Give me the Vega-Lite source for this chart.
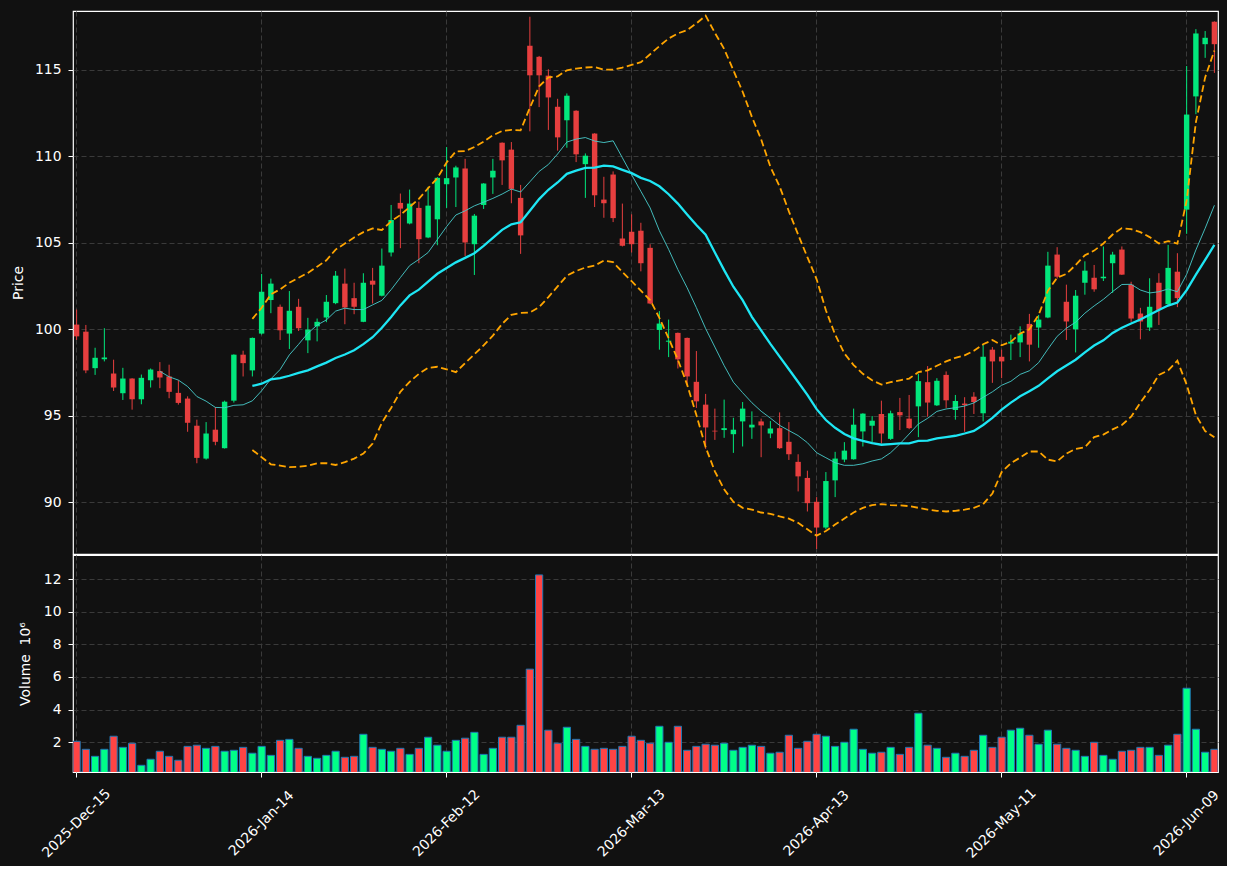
{
"$schema": "https://vega.github.io/schema/vega-lite/v6.json",
"background": "#111111",
"padding": {"left": 11, "top": 10, "right": 5, "bottom": 5},
"config": {
 "view": {"stroke": "#ffffff", "strokeWidth": 1.2, "fill": "#111111"},
 "axis": {"labelColor": "#ffffff", "titleColor": "#ffffff", "labelFont": "DejaVu Sans", "titleFont": "DejaVu Sans", "labelFontSize": 13.9, "titleFontSize": 13.9, "titleFontWeight": "normal", "tickColor": "#ffffff", "tickSize": 5, "tickWidth": 1, "domain": false, "gridColor": "#3a3a3a", "gridDash": [5, 3], "gridWidth": 1, "labelPadding": 7}
},
"data": {"values": [
{"date":"2025-12-15","open":100.27,"high":101.14,"low":99.38,"close":99.59,"volume":2.06},
{"date":"2025-12-16","open":99.86,"high":100.25,"low":97.46,"close":97.62,"volume":1.57},
{"date":"2025-12-17","open":97.75,"high":98.93,"low":97.36,"close":98.35,"volume":1.14},
{"date":"2025-12-18","open":98.26,"high":100.06,"low":98.14,"close":98.37,"volume":1.57},
{"date":"2025-12-19","open":97.44,"high":98.24,"low":96.43,"close":96.63,"volume":2.37},
{"date":"2025-12-22","open":96.30,"high":97.77,"low":95.91,"close":97.15,"volume":1.69},
{"date":"2025-12-23","open":97.15,"high":97.17,"low":95.35,"close":95.95,"volume":1.94},
{"date":"2025-12-24","open":95.95,"high":97.38,"low":95.66,"close":97.19,"volume":0.59},
{"date":"2025-12-26","open":97.05,"high":97.73,"low":96.63,"close":97.67,"volume":0.96},
{"date":"2025-12-29","open":97.58,"high":98.10,"low":96.59,"close":97.21,"volume":1.45,"ma10":97.57},
{"date":"2025-12-30","open":97.27,"high":97.95,"low":96.01,"close":96.38,"volume":1.14,"ma10":97.25},
{"date":"2025-12-31","open":96.32,"high":97.05,"low":95.64,"close":95.74,"volume":0.90,"ma10":97.06},
{"date":"2026-01-02","open":95.99,"high":96.12,"low":94.07,"close":94.59,"volume":1.75,"ma10":96.69},
{"date":"2026-01-05","open":94.42,"high":94.77,"low":92.25,"close":92.56,"volume":1.82,"ma10":96.11},
{"date":"2026-01-06","open":92.52,"high":94.63,"low":92.46,"close":93.97,"volume":1.63,"ma10":95.84},
{"date":"2026-01-07","open":94.19,"high":95.50,"low":93.29,"close":93.49,"volume":1.75,"ma10":95.48},
{"date":"2026-01-08","open":93.12,"high":95.87,"low":93.10,"close":95.81,"volume":1.45,"ma10":95.46},
{"date":"2026-01-09","open":95.87,"high":98.55,"low":95.76,"close":98.53,"volume":1.51,"ma10":95.60},
{"date":"2026-01-12","open":98.53,"high":98.76,"low":97.27,"close":98.04,"volume":1.69,"ma10":95.63},
{"date":"2026-01-13","open":97.62,"high":99.52,"low":97.27,"close":99.50,"volume":1.33,"ma10":95.86,"ma20":96.72,"bb_upper":100.6,"bb_lower":93.02},
{"date":"2026-01-14","open":99.75,"high":103.20,"low":99.69,"close":102.17,"volume":1.75,"ma10":96.44,"ma20":96.85,"bb_upper":101.24,"bb_lower":92.60},
{"date":"2026-01-15","open":101.69,"high":102.93,"low":100.93,"close":102.64,"volume":1.20,"ma10":97.13,"ma20":97.10,"bb_upper":102.02,"bb_lower":92.19},
{"date":"2026-01-16","open":101.30,"high":101.43,"low":99.38,"close":99.94,"volume":2.12,"ma10":97.67,"ma20":97.18,"bb_upper":102.31,"bb_lower":92.11},
{"date":"2026-01-20","open":99.75,"high":102.21,"low":98.86,"close":101.07,"volume":2.18,"ma10":98.52,"ma20":97.31,"bb_upper":102.69,"bb_lower":92.02},
{"date":"2026-01-21","open":101.30,"high":101.76,"low":99.90,"close":100.06,"volume":1.63,"ma10":99.13,"ma20":97.48,"bb_upper":102.98,"bb_lower":92.05},
{"date":"2026-01-22","open":99.36,"high":100.66,"low":98.62,"close":99.98,"volume":1.14,"ma10":99.77,"ma20":97.62,"bb_upper":103.26,"bb_lower":92.11},
{"date":"2026-01-23","open":100.17,"high":100.62,"low":99.30,"close":100.43,"volume":1.02,"ma10":100.24,"ma20":97.85,"bb_upper":103.62,"bb_lower":92.25},
{"date":"2026-01-26","open":100.68,"high":101.98,"low":100.41,"close":101.59,"volume":1.20,"ma10":100.54,"ma20":98.07,"bb_upper":103.99,"bb_lower":92.25},
{"date":"2026-01-27","open":101.51,"high":103.37,"low":101.45,"close":103.10,"volume":1.45,"ma10":101.05,"ma20":98.34,"bb_upper":104.61,"bb_lower":92.15},
{"date":"2026-01-28","open":102.64,"high":103.51,"low":100.29,"close":101.26,"volume":1.08,"ma10":101.22,"ma20":98.54,"bb_upper":104.96,"bb_lower":92.31},
{"date":"2026-01-29","open":101.80,"high":102.69,"low":100.87,"close":101.30,"volume":1.14,"ma10":101.14,"ma20":98.79,"bb_upper":105.31,"bb_lower":92.52},
{"date":"2026-01-30","open":100.43,"high":103.24,"low":100.41,"close":102.69,"volume":2.49,"ma10":101.14,"ma20":99.14,"bb_upper":105.62,"bb_lower":92.81},
{"date":"2026-02-02","open":102.81,"high":103.55,"low":101.49,"close":102.58,"volume":1.69,"ma10":101.41,"ma20":99.54,"bb_upper":105.83,"bb_lower":93.39},
{"date":"2026-02-03","open":101.94,"high":104.67,"low":101.90,"close":103.68,"volume":1.57,"ma10":101.67,"ma20":100.09,"bb_upper":105.74,"bb_lower":94.59},
{"date":"2026-02-04","open":104.44,"high":107.19,"low":104.21,"close":106.32,"volume":1.45,"ma10":102.29,"ma20":100.71,"bb_upper":106.24,"bb_lower":95.45},
{"date":"2026-02-05","open":107.31,"high":107.85,"low":104.69,"close":106.98,"volume":1.63,"ma10":102.99,"ma20":101.38,"bb_upper":106.61,"bb_lower":96.38},
{"date":"2026-02-06","open":106.12,"high":108.08,"low":106.07,"close":107.27,"volume":1.26,"ma10":103.68,"ma20":101.96,"bb_upper":107.07,"bb_lower":96.96},
{"date":"2026-02-09","open":107.02,"high":107.38,"low":103.82,"close":105.21,"volume":1.63,"ma10":104.04,"ma20":102.29,"bb_upper":107.54,"bb_lower":97.42},
{"date":"2026-02-10","open":105.31,"high":108.24,"low":105.27,"close":107.15,"volume":2.31,"ma10":104.44,"ma20":102.75,"bb_upper":108.16,"bb_lower":97.77},
{"date":"2026-02-11","open":106.36,"high":108.80,"low":104.86,"close":108.76,"volume":1.82,"ma10":105.19,"ma20":103.21,"bb_upper":108.74,"bb_lower":97.83},
{"date":"2026-02-12","open":108.39,"high":110.54,"low":107.02,"close":108.74,"volume":1.45,"ma10":105.94,"ma20":103.54,"bb_upper":109.65,"bb_lower":97.68},
{"date":"2026-02-13","open":108.78,"high":109.46,"low":107.07,"close":109.36,"volume":2.12,"ma10":106.61,"ma20":103.87,"bb_upper":110.29,"bb_lower":97.52},
{"date":"2026-02-17","open":109.30,"high":109.86,"low":104.24,"close":105.02,"volume":2.25,"ma10":106.85,"ma20":104.13,"bb_upper":110.31,"bb_lower":98.04},
{"date":"2026-02-18","open":104.92,"high":106.67,"low":103.14,"close":106.57,"volume":2.61,"ma10":107.14,"ma20":104.40,"bb_upper":110.54,"bb_lower":98.55},
{"date":"2026-02-19","open":107.19,"high":108.45,"low":106.96,"close":108.43,"volume":1.26,"ma10":107.35,"ma20":104.82,"bb_upper":110.85,"bb_lower":99.07},
{"date":"2026-02-20","open":108.78,"high":109.86,"low":107.83,"close":109.17,"volume":1.63,"ma10":107.57,"ma20":105.28,"bb_upper":111.22,"bb_lower":99.63},
{"date":"2026-02-23","open":110.79,"high":110.81,"low":108.35,"close":109.77,"volume":2.31,"ma10":107.82,"ma20":105.75,"bb_upper":111.47,"bb_lower":100.31},
{"date":"2026-02-24","open":110.39,"high":110.83,"low":107.29,"close":108.12,"volume":2.31,"ma10":108.11,"ma20":106.07,"bb_upper":111.53,"bb_lower":100.83},
{"date":"2026-02-25","open":107.60,"high":108.35,"low":104.36,"close":105.43,"volume":3.04,"ma10":107.94,"ma20":106.19,"bb_upper":111.51,"bb_lower":100.95},
{"date":"2026-02-26","open":116.40,"high":118.08,"low":111.45,"close":114.69,"volume":6.48,"ma10":108.53,"ma20":106.86,"bb_upper":112.81,"bb_lower":100.97},
{"date":"2026-02-27","open":115.76,"high":115.81,"low":112.85,"close":114.69,"volume":12.25,"ma10":109.13,"ma20":107.53,"bb_upper":114.05,"bb_lower":101.28},
{"date":"2026-03-02","open":114.67,"high":115.04,"low":111.53,"close":113.41,"volume":2.74,"ma10":109.53,"ma20":108.07,"bb_upper":114.57,"bb_lower":101.86},
{"date":"2026-03-03","open":112.87,"high":113.33,"low":110.33,"close":111.10,"volume":1.94,"ma10":110.14,"ma20":108.49,"bb_upper":114.63,"bb_lower":102.48},
{"date":"2026-03-04","open":112.09,"high":113.64,"low":110.50,"close":113.51,"volume":2.92,"ma10":110.83,"ma20":108.99,"bb_upper":114.98,"bb_lower":103.10},
{"date":"2026-03-05","open":112.64,"high":112.67,"low":109.67,"close":110.12,"volume":2.18,"ma10":111.00,"ma20":109.18,"bb_upper":115.08,"bb_lower":103.37},
{"date":"2026-03-06","open":109.55,"high":110.17,"low":107.60,"close":110.04,"volume":1.75,"ma10":111.09,"ma20":109.33,"bb_upper":115.14,"bb_lower":103.57},
{"date":"2026-03-09","open":111.32,"high":111.34,"low":107.07,"close":107.75,"volume":1.57,"ma10":110.89,"ma20":109.35,"bb_upper":115.17,"bb_lower":103.68},
{"date":"2026-03-10","open":107.50,"high":108.82,"low":106.45,"close":107.29,"volume":1.63,"ma10":110.80,"ma20":109.46,"bb_upper":115.02,"bb_lower":103.97},
{"date":"2026-03-11","open":108.95,"high":109.13,"low":106.20,"close":106.43,"volume":1.57,"ma10":110.90,"ma20":109.42,"bb_upper":115.02,"bb_lower":103.88},
{"date":"2026-03-12","open":105.25,"high":107.27,"low":104.79,"close":104.83,"volume":1.75,"ma10":109.92,"ma20":109.22,"bb_upper":115.14,"bb_lower":103.31},
{"date":"2026-03-13","open":105.64,"high":106.65,"low":104.44,"close":104.92,"volume":2.37,"ma10":108.94,"ma20":109.03,"bb_upper":115.29,"bb_lower":102.78},
{"date":"2026-03-16","open":105.70,"high":106.16,"low":103.35,"close":103.82,"volume":2.12,"ma10":107.98,"ma20":108.76,"bb_upper":115.45,"bb_lower":102.24},
{"date":"2026-03-17","open":104.71,"high":104.92,"low":101.45,"close":101.49,"volume":1.94,"ma10":107.02,"ma20":108.58,"bb_upper":115.91,"bb_lower":101.69},
{"date":"2026-03-18","open":99.96,"high":101.05,"low":98.82,"close":100.33,"volume":2.98,"ma10":105.70,"ma20":108.27,"bb_upper":116.38,"bb_lower":100.66},
{"date":"2026-03-19","open":99.28,"high":100.56,"low":98.39,"close":99.34,"volume":2.00,"ma10":104.62,"ma20":107.81,"bb_upper":116.82,"bb_lower":99.48},
{"date":"2026-03-20","open":99.79,"high":99.81,"low":97.73,"close":98.26,"volume":2.98,"ma10":103.45,"ma20":107.27,"bb_upper":117.11,"bb_lower":98.24},
{"date":"2026-03-23","open":99.50,"high":99.52,"low":96.74,"close":97.27,"volume":1.51,"ma10":102.40,"ma20":106.64,"bb_upper":117.31,"bb_lower":96.80},
{"date":"2026-03-24","open":96.96,"high":98.74,"low":95.45,"close":95.83,"volume":1.75,"ma10":101.25,"ma20":106.03,"bb_upper":117.69,"bb_lower":95.04},
{"date":"2026-03-25","open":95.64,"high":96.26,"low":93.08,"close":94.32,"volume":1.88,"ma10":100.04,"ma20":105.47,"bb_upper":118.14,"bb_lower":93.18},
{"date":"2026-03-26","open":94.13,"high":95.41,"low":93.60,"close":94.09,"volume":1.82,"ma10":98.97,"ma20":104.44,"bb_upper":117.15,"bb_lower":91.78},
{"date":"2026-03-27","open":94.17,"high":95.93,"low":93.72,"close":94.28,"volume":1.94,"ma10":97.90,"ma20":103.42,"bb_upper":116.22,"bb_lower":90.74},
{"date":"2026-03-30","open":93.93,"high":94.88,"low":92.85,"close":94.19,"volume":1.51,"ma10":96.94,"ma20":102.46,"bb_upper":114.98,"bb_lower":90.02},
{"date":"2026-03-31","open":94.67,"high":95.79,"low":93.22,"close":95.41,"volume":1.69,"ma10":96.33,"ma20":101.68,"bb_upper":113.74,"bb_lower":89.67},
{"date":"2026-04-01","open":94.32,"high":95.25,"low":93.66,"close":94.48,"volume":1.82,"ma10":95.75,"ma20":100.72,"bb_upper":112.29,"bb_lower":89.57},
{"date":"2026-04-02","open":94.67,"high":94.83,"low":92.60,"close":94.44,"volume":1.75,"ma10":95.26,"ma20":99.94,"bb_upper":110.99,"bb_lower":89.40},
{"date":"2026-04-06","open":93.97,"high":94.69,"low":93.70,"close":94.26,"volume":1.33,"ma10":94.86,"ma20":99.15,"bb_upper":109.4,"bb_lower":89.32},
{"date":"2026-04-07","open":94.28,"high":95.19,"low":93.08,"close":93.12,"volume":1.39,"ma10":94.44,"ma20":98.42,"bb_upper":108.26,"bb_lower":89.17},
{"date":"2026-04-08","open":93.49,"high":94.63,"low":92.44,"close":92.77,"volume":2.43,"ma10":94.14,"ma20":97.69,"bb_upper":106.82,"bb_lower":89.05},
{"date":"2026-04-09","open":92.33,"high":92.77,"low":90.62,"close":91.49,"volume":1.63,"ma10":93.85,"ma20":96.95,"bb_upper":105.48,"bb_lower":88.80},
{"date":"2026-04-10","open":91.40,"high":91.82,"low":89.46,"close":89.94,"volume":2.06,"ma10":93.44,"ma20":96.20,"bb_upper":104.17,"bb_lower":88.43},
{"date":"2026-04-13","open":90.02,"high":90.29,"low":87.29,"close":88.53,"volume":2.49,"ma10":92.86,"ma20":95.38,"bb_upper":102.89,"bb_lower":88.06},
{"date":"2026-04-14","open":88.53,"high":91.74,"low":88.43,"close":91.22,"volume":2.37,"ma10":92.57,"ma20":94.75,"bb_upper":101.1,"bb_lower":88.33},
{"date":"2026-04-15","open":91.26,"high":92.91,"low":90.29,"close":92.52,"volume":1.75,"ma10":92.28,"ma20":94.30,"bb_upper":99.69,"bb_lower":88.70},
{"date":"2026-04-16","open":92.46,"high":93.47,"low":92.31,"close":92.98,"volume":2.00,"ma10":92.13,"ma20":93.94,"bb_upper":98.60,"bb_lower":89.05},
{"date":"2026-04-17","open":92.48,"high":95.41,"low":92.46,"close":94.48,"volume":2.80,"ma10":92.13,"ma20":93.69,"bb_upper":97.93,"bb_lower":89.40},
{"date":"2026-04-20","open":94.09,"high":95.14,"low":93.22,"close":95.12,"volume":1.57,"ma10":92.22,"ma20":93.54,"bb_upper":97.42,"bb_lower":89.67},
{"date":"2026-04-21","open":94.42,"high":94.98,"low":93.45,"close":94.71,"volume":1.33,"ma10":92.38,"ma20":93.41,"bb_upper":97.05,"bb_lower":89.83},
{"date":"2026-04-22","open":95.10,"high":95.87,"low":93.39,"close":93.97,"volume":1.39,"ma10":92.50,"ma20":93.32,"bb_upper":96.80,"bb_lower":89.88},
{"date":"2026-04-23","open":93.66,"high":95.29,"low":93.60,"close":95.14,"volume":1.69,"ma10":92.86,"ma20":93.36,"bb_upper":96.94,"bb_lower":89.83},
{"date":"2026-04-24","open":95.21,"high":96.03,"low":94.17,"close":95.02,"volume":1.26,"ma10":93.37,"ma20":93.40,"bb_upper":97.05,"bb_lower":89.81},
{"date":"2026-04-27","open":94.83,"high":96.20,"low":94.22,"close":94.28,"volume":1.69,"ma10":93.94,"ma20":93.40,"bb_upper":97.15,"bb_lower":89.77},
{"date":"2026-04-28","open":95.54,"high":97.42,"low":93.76,"close":97.00,"volume":3.78,"ma10":94.52,"ma20":93.54,"bb_upper":97.52,"bb_lower":89.67},
{"date":"2026-04-29","open":96.94,"high":97.87,"low":94.94,"close":95.76,"volume":1.82,"ma10":94.85,"ma20":93.56,"bb_upper":97.62,"bb_lower":89.57},
{"date":"2026-04-30","open":95.60,"high":97.17,"low":95.56,"close":97.02,"volume":1.63,"ma10":95.25,"ma20":93.69,"bb_upper":97.89,"bb_lower":89.50},
{"date":"2026-05-01","open":97.36,"high":97.56,"low":95.45,"close":95.89,"volume":1.08,"ma10":95.39,"ma20":93.76,"bb_upper":98.14,"bb_lower":89.46},
{"date":"2026-05-04","open":95.33,"high":96.20,"low":94.77,"close":95.85,"volume":1.33,"ma10":95.46,"ma20":93.84,"bb_upper":98.35,"bb_lower":89.50},
{"date":"2026-05-05","open":95.70,"high":96.07,"low":94.07,"close":95.62,"volume":1.14,"ma10":95.56,"ma20":93.97,"bb_upper":98.49,"bb_lower":89.57},
{"date":"2026-05-06","open":96.10,"high":96.36,"low":95.10,"close":95.79,"volume":1.51,"ma10":95.74,"ma20":94.12,"bb_upper":98.76,"bb_lower":89.67},
{"date":"2026-05-07","open":95.14,"high":99.11,"low":94.67,"close":98.41,"volume":2.43,"ma10":96.06,"ma20":94.46,"bb_upper":99.13,"bb_lower":89.88},
{"date":"2026-05-08","open":98.82,"high":98.97,"low":96.90,"close":98.14,"volume":1.69,"ma10":96.38,"ma20":94.87,"bb_upper":99.38,"bb_lower":90.50},
{"date":"2026-05-11","open":98.41,"high":98.82,"low":97.17,"close":98.14,"volume":2.31,"ma10":96.76,"ma20":95.35,"bb_upper":99.07,"bb_lower":91.74},
{"date":"2026-05-12","open":99.17,"high":99.69,"low":98.22,"close":99.28,"volume":2.74,"ma10":96.99,"ma20":95.76,"bb_upper":99.28,"bb_lower":92.25},
{"date":"2026-05-13","open":99.24,"high":100.17,"low":98.39,"close":99.75,"volume":2.86,"ma10":97.39,"ma20":96.12,"bb_upper":99.75,"bb_lower":92.58},
{"date":"2026-05-14","open":100.31,"high":100.89,"low":98.14,"close":99.11,"volume":2.43,"ma10":97.60,"ma20":96.42,"bb_upper":100.00,"bb_lower":92.93},
{"date":"2026-05-15","open":100.10,"high":100.83,"low":98.93,"close":100.56,"volume":1.88,"ma10":98.07,"ma20":96.73,"bb_upper":100.83,"bb_lower":92.93},
{"date":"2026-05-18","open":100.68,"high":104.48,"low":100.64,"close":103.68,"volume":2.74,"ma10":98.85,"ma20":97.16,"bb_upper":102.23,"bb_lower":92.46},
{"date":"2026-05-19","open":104.32,"high":104.75,"low":102.93,"close":103.04,"volume":1.88,"ma10":99.59,"ma20":97.57,"bb_upper":102.98,"bb_lower":92.36},
{"date":"2026-05-20","open":101.59,"high":102.58,"low":99.38,"close":100.45,"volume":1.63,"ma10":100.06,"ma20":97.90,"bb_upper":103.20,"bb_lower":92.81},
{"date":"2026-05-21","open":100.00,"high":102.27,"low":98.66,"close":101.94,"volume":1.51,"ma10":100.41,"ma20":98.24,"bb_upper":103.72,"bb_lower":93.08},
{"date":"2026-05-22","open":102.69,"high":103.93,"low":102.00,"close":103.39,"volume":1.14,"ma10":100.93,"ma20":98.66,"bb_upper":104.28,"bb_lower":93.18},
{"date":"2026-05-26","open":102.98,"high":103.72,"low":102.17,"close":102.31,"volume":2.00,"ma10":101.35,"ma20":99.06,"bb_upper":104.55,"bb_lower":93.76},
{"date":"2026-05-27","open":102.95,"high":104.79,"low":102.79,"close":103.04,"volume":1.20,"ma10":101.73,"ma20":99.36,"bb_upper":104.96,"bb_lower":93.91},
{"date":"2026-05-28","open":103.82,"high":104.48,"low":102.11,"close":104.32,"volume":0.96,"ma10":102.18,"ma20":99.79,"bb_upper":105.48,"bb_lower":94.21},
{"date":"2026-05-29","open":104.61,"high":104.79,"low":103.14,"close":103.16,"volume":1.45,"ma10":102.59,"ma20":100.09,"bb_upper":105.85,"bb_lower":94.46},
{"date":"2026-06-01","open":102.58,"high":102.75,"low":100.43,"close":100.62,"volume":1.51,"ma10":102.60,"ma20":100.33,"bb_upper":105.79,"bb_lower":94.94},
{"date":"2026-06-02","open":100.91,"high":101.24,"low":99.42,"close":100.45,"volume":1.69,"ma10":102.27,"ma20":100.56,"bb_upper":105.62,"bb_lower":95.76},
{"date":"2026-06-03","open":100.10,"high":102.95,"low":99.90,"close":101.30,"volume":1.69,"ma10":102.10,"ma20":100.84,"bb_upper":105.33,"bb_lower":96.49},
{"date":"2026-06-04","open":102.69,"high":103.24,"low":100.25,"close":101.12,"volume":1.20,"ma10":102.17,"ma20":101.11,"bb_upper":104.96,"bb_lower":97.36},
{"date":"2026-06-05","open":101.45,"high":104.88,"low":101.40,"close":103.55,"volume":1.82,"ma10":102.33,"ma20":101.37,"bb_upper":105.10,"bb_lower":97.62},
{"date":"2026-06-08","open":103.33,"high":104.40,"low":101.28,"close":101.80,"volume":2.49,"ma10":102.17,"ma20":101.55,"bb_upper":104.96,"bb_lower":98.18},
{"date":"2026-06-09","open":106.92,"high":115.23,"low":105.52,"close":112.42,"volume":5.31,"ma10":103.18,"ma20":102.26,"bb_upper":107.44,"bb_lower":96.80},
{"date":"2026-06-10","open":113.47,"high":117.36,"low":112.44,"close":117.11,"volume":2.80,"ma10":104.59,"ma20":103.16,"bb_upper":111.98,"bb_lower":95.04},
{"date":"2026-06-11","open":116.49,"high":117.25,"low":115.70,"close":116.86,"volume":1.39,"ma10":105.84,"ma20":104.01,"bb_upper":114.57,"bb_lower":94.11},
{"date":"2026-06-12","open":117.79,"high":117.81,"low":114.83,"close":116.49,"volume":1.57,"ma10":107.17,"ma20":104.88,"bb_upper":116.12,"bb_lower":93.76}
]},
"spacing": -3,
"vconcat": [
 {
  "width": 1145,
  "height": 543,
  "encoding": {
   "x": {"field": "date", "type": "ordinal",
    "scale": {"type": "band", "paddingInner": 0.22, "paddingOuter": 0},
    "axis": {"values": ["2025-12-15","2026-01-14","2026-02-12","2026-03-13","2026-04-13","2026-05-11","2026-06-09"], "labels": false, "ticks": false, "title": null, "grid": true, "bandPosition": 0.5, "minExtent": 0, "maxExtent": 0, "offset": 0}}
  },
  "layer": [
   {"mark": {"type": "rule", "strokeWidth": 1},
    "encoding": {
     "y": {"field": "low", "type": "quantitative", "scale": {"domain": [87.0, 118.41], "nice": false, "zero": false},
      "axis": {"values": [90, 95, 100, 105, 110, 115], "title": "Price", "titleX": -54.3, "titleY": 271.5, "titleBaseline": "middle", "titleAngle": -90, "grid": true}},
     "y2": {"field": "high"},
     "color": {"condition": {"test": "datum.close >= datum.open", "value": "#02e77c"}, "value": "#e73f3f"}
    }},
   {"mark": {"type": "bar", "width": {"band": 0.75}},
    "encoding": {
     "y": {"field": "open", "type": "quantitative"},
     "y2": {"field": "close"},
     "color": {"condition": {"test": "datum.close >= datum.open", "value": "#02e77c"}, "value": "#e73f3f"}
    }},
   {"mark": {"type": "line", "color": "#48cccc", "strokeWidth": 1, "opacity": 0.9},
    "encoding": {"y": {"field": "ma10", "type": "quantitative"}}},
   {"mark": {"type": "line", "color": "#1ee6f4", "strokeWidth": 2.3},
    "encoding": {"y": {"field": "ma20", "type": "quantitative"}}},
   {"mark": {"type": "line", "color": "#ffa500", "strokeWidth": 1.8, "strokeDash": [7, 3.5]},
    "encoding": {"y": {"field": "bb_upper", "type": "quantitative"}}},
   {"mark": {"type": "line", "color": "#ffa500", "strokeWidth": 1.8, "strokeDash": [7, 3.5]},
    "encoding": {"y": {"field": "bb_lower", "type": "quantitative"}}}
  ]
 },
 {
  "width": 1145,
  "height": 217,
  "mark": {"type": "bar", "width": {"band": 1.0}, "stroke": "#1f77b4", "strokeWidth": 1, "clip": true},
  "encoding": {
   "x": {"field": "date", "type": "ordinal",
    "scale": {"type": "band", "paddingInner": 0.22, "paddingOuter": 0},
    "axis": {"values": ["2025-12-15","2026-01-14","2026-02-12","2026-03-13","2026-04-13","2026-05-11","2026-06-09"], "labelExpr": "utcFormat(toDate(datum.value), '%Y-%b-%d')", "labelAngle": -45, "labelAlign": "center", "labelBaseline": "middle", "labelPadding": 46, "labelOverlap": false, "title": null, "grid": true, "bandPosition": 0.5}},
   "y": {"field": "volume", "type": "quantitative", "scale": {"domain": [0.18, 13.47], "nice": false, "zero": false},
    "axis": {"values": [2, 4, 6, 8, 10, 12], "title": "Volume\u00a0\u00a010⁶", "titleX": -47.3, "titleY": 108.5, "titleBaseline": "middle", "titleAngle": -90, "grid": true}},
   "color": {"condition": {"test": "datum.close >= datum.open", "value": "#00ff88"}, "value": "#ff4444"}
  }
 }
]
}
